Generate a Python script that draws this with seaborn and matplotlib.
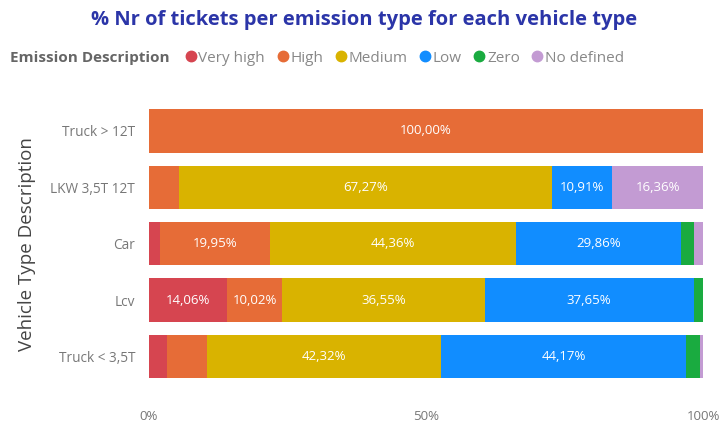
import numpy as np
import pandas as pd
import matplotlib
matplotlib.use("Agg")
import matplotlib.pyplot as plt
import seaborn as sns
from matplotlib.lines import Line2D

vehicles = ["Truck > 12T", "LKW 3,5T 12T", "Car", "Lcv", "Truck < 3,5T"]
emissions = ["Very high", "High", "Medium", "Low", "Zero", "No defined"]
very_high = [0.00, 0.00, 1.93, 14.06, 3.30]
high = [100.00, 5.45, 19.95, 10.02, 7.11]
medium = [0.00, 67.27, 44.36, 36.55, 42.32]
low = [0.00, 10.91, 29.86, 37.65, 44.17]
zero = [0.00, 0.00, 2.30, 1.72, 2.60]
no_defined = [0.00, 16.36, 1.60, 0.00, 0.50]
colors = ["#D64550", "#E66C37", "#D9B300", "#118DFF", "#1AAB40", "#C39BD3"]
xticks = [0, 50, 100]
xticklabels = ["0%", "50%", "100%"]

series = [very_high, high, medium, low, zero, no_defined]
df = pd.DataFrame({e: s for e, s in zip(emissions, series)}, index=vehicles)
cum = df.cumsum(axis=1)

sns.set_theme(style="white")
plt.rcParams["font.family"] = ["Open Sans", "DejaVu Sans"]

fig = plt.figure(figsize=(7.28, 4.34), dpi=100)
ax = fig.add_axes([0.2047, 0.1136, 0.761, 0.65])

for e, c in reversed(list(zip(emissions, colors))):
    d = pd.DataFrame({"vehicle": vehicles, "value": cum[e].values})
    sns.barplot(data=d, x="value", y="vehicle", color=c, order=vehicles,
                width=0.77, saturation=1, ax=ax, edgecolor="none", linewidth=0)

for i, v in enumerate(vehicles):
    for e in emissions:
        val = df.loc[v, e]
        if val >= 8:
            center = cum.loc[v, e] - val / 2
            ax.text(center, i, f"{val:.2f}%".replace(".", ","), ha="center", va="center",
                    color="white", fontsize=9.5)

ax.set_xlim(0, 100)
ax.set_ylim(4.5, -0.5)
ax.set_xticks(xticks)
ax.set_xticklabels(xticklabels, color="#777777", fontsize=9.5)
ax.tick_params(axis="y", labelsize=9.8, labelcolor="#777777", length=0, pad=10)
ax.tick_params(axis="x", length=0, pad=18)
ax.set_xlabel("")
ax.set_ylabel("Vehicle Type Description", fontsize=13.5, color="#444444", labelpad=10)
for s in ax.spines.values():
    s.set_visible(False)

fig.text(0.5, 0.955, "% Nr of tickets per emission type for each vehicle type",
         ha="center", va="center", fontsize=14.5, fontweight="bold", color="#2B35A8")
fig.text(0.014, 0.866, "Emission Description", ha="left", va="center",
         fontsize=11, fontweight="bold", color="#666666")
handles = [Line2D([], [], marker="o", linestyle="", markersize=7.5, markerfacecolor=c,
                  markeredgecolor=c) for c in colors]
fig.legend(handles, emissions, loc="center left", bbox_to_anchor=(0.239, 0.866),
           ncol=6, frameon=False, handletextpad=-0.1, columnspacing=0.55,
           handlelength=1.2, fontsize=11, labelcolor="#888888", borderpad=0)

fig.savefig("out.png", dpi=100)
